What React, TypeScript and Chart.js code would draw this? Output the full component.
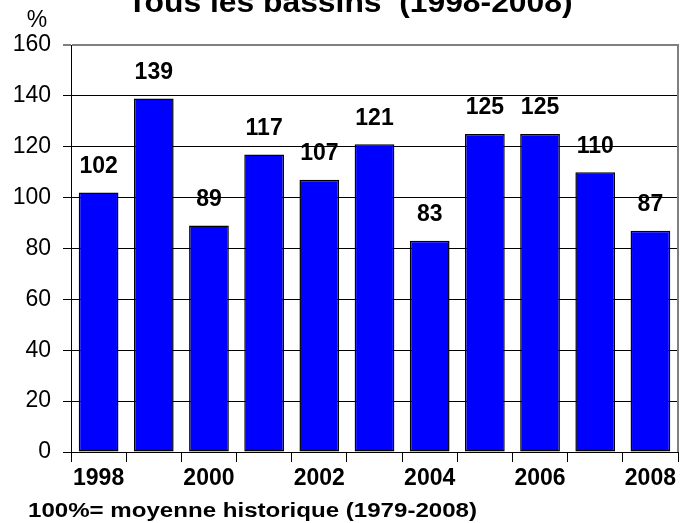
import React, { useEffect, useRef } from "react";
import { Chart, registerables } from "chart.js";

Chart.register(...registerables);

const years = ["1998", "1999", "2000", "2001", "2002", "2003", "2004", "2005", "2006", "2007", "2008"];
const values = [102, 139, 89, 117, 107, 121, 83, 125, 125, 110, 87];
const titleText = "Tous les bassins  (1998-2008)";
const unitText = "%";
const footnoteText = "100%= moyenne historique (1979-2008)";

const FONT = "'Liberation Sans', Arial, sans-serif";

function stretchedText(ctx: any, text: string, x: number, y: number, width: number, align: string) {
  const w = ctx.measureText(text).width;
  const sx = width / w;
  ctx.save();
  ctx.textAlign = "left";
  const left = align === "center" ? x - width / 2 : x;
  ctx.translate(left, y);
  ctx.scale(sx, 1);
  ctx.fillText(text, 0, 0);
  ctx.restore();
}

const overlay = {
  id: "overlay",
  afterDatasetsDraw(chart: any) {
    const { ctx, chartArea } = chart;
    ctx.save();
    // right border
    ctx.strokeStyle = "#808080";
    ctx.lineWidth = 2;
    ctx.beginPath();
    ctx.moveTo(chartArea.right, chartArea.top - 1);
    ctx.lineTo(chartArea.right, chartArea.bottom);
    ctx.stroke();
    // data labels
    const meta = chart.getDatasetMeta(0);
    ctx.fillStyle = "#000";
    ctx.font = `bold 23px ${FONT}`;
    ctx.textAlign = "center";
    ctx.textBaseline = "middle";
    meta.data.forEach((bar: any, i: number) => {
      ctx.fillText(String(values[i]), bar.x, bar.y - 26);
    });
    // title
    ctx.font = `bold 30px ${FONT}`;
    ctx.textBaseline = "alphabetic";
    stretchedText(ctx, titleText, 350, 12, 445, "center");
    // unit
    ctx.textAlign = "center";
    ctx.font = `23px ${FONT}`;
    ctx.fillText(unitText, 37, 27);
    // footnote
    ctx.font = `bold 20px ${FONT}`;
    stretchedText(ctx, footnoteText, 28, 517, 449, "left");
    ctx.restore();
  },
};

export default function App() {
  const ref = useRef<HTMLCanvasElement | null>(null);
  useEffect(() => {
    document.body.style.margin = "0";
    const chart = new Chart(ref.current as HTMLCanvasElement, {
      type: "bar",
      data: {
        labels: years,
        datasets: [
          {
            data: values,
            backgroundColor: "#0000FF",
            borderColor: "#000000",
            borderWidth: 1.5,
            borderSkipped: false,
            barPercentage: 0.72,
            categoryPercentage: 1,
          },
        ],
      },
      options: {
        animation: false,
        responsive: false,
        maintainAspectRatio: false,
        layout: { padding: { top: 45, right: 3, left: 0, bottom: 0 } },
        plugins: { legend: { display: false }, tooltip: { enabled: false }, title: { display: false } },
        scales: {
          x: {
            offset: true,
            grid: {
              offset: true,
              drawOnChartArea: false,
              drawTicks: true,
              tickLength: 10,
              tickColor: "#000",
            },
            border: { display: true, color: "#000", width: 1 },
            ticks: {
              autoSkip: false,
              maxRotation: 0,
              padding: 3,
              color: "#000",
              font: { family: FONT, size: 23, weight: "bold" },
              callback: (v: any, i: number) => (i % 2 === 0 ? years[i] : ""),
            },
            afterFit: (s: any) => {
              s.height = 71;
            },
          },
          y: {
            min: 0,
            max: 160,
            grid: {
              color: (c: any) => (c.tick && c.tick.value === 160 ? "#808080" : "#000"),
              lineWidth: (c: any) => (c.tick && c.tick.value === 160 ? 2 : 1),
              tickColor: (c: any) => (c.tick && c.tick.value === 160 ? "#808080" : "#000"),
              tickLength: 8,
            },
            border: { display: true, color: "#000", width: 1 },
            ticks: {
              stepSize: 20,
              padding: 12,
              color: "#000",
              font: { family: FONT, size: 23 },
            },
            afterFit: (s: any) => {
              s.width = 71;
            },
          },
        },
      },
      plugins: [overlay],
    });
    return () => chart.destroy();
  }, []);
  return (
    <div style={{ position: "absolute", left: 0, top: 0, width: 681, height: 523 }}>
      <canvas ref={ref} width={681} height={523} style={{ width: 681, height: 523 }} />
    </div>
  );
}
